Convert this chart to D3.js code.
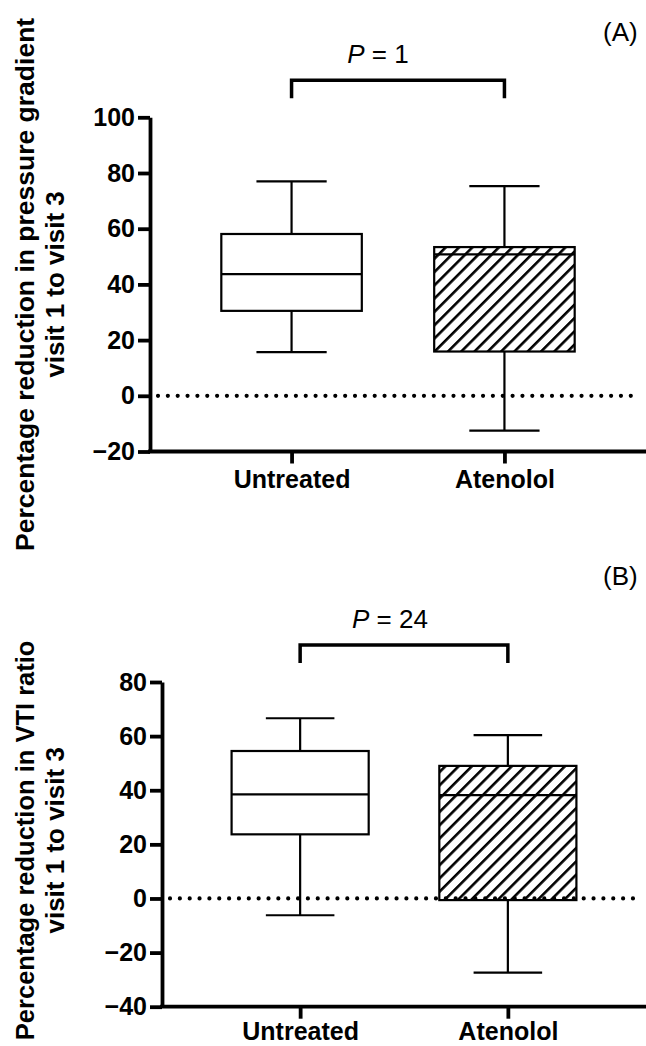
<!DOCTYPE html>
<html>
<head>
<meta charset="utf-8">
<script src="https://cdn.jsdelivr.net/npm/d3@7"></script>
<style>
  body { margin: 0; background: #fff; }
  svg { display: block; font-family: "Liberation Sans", Arial, sans-serif; }
</style>
</head>
<body>
<div id="chart"></div>
<script>
var svgWidth = 646;
var svgHeight = 1046;

var categories = ["Untreated", "Atenolol"];

// (A) percentage reduction in pressure gradient
var gradLow = [15.7, -12.5];
var gradQ1 = [30.5, 15.9];
var gradMedian = [43.7, 50.8];
var gradQ3 = [58.1, 53.4];
var gradHigh = [77.0, 75.3];
var gradTicks = [-20, 0, 20, 40, 60, 80, 100];

// (B) percentage reduction in VTI ratio
var vtiLow = [-6.2, -27.4];
var vtiQ1 = [23.7, -0.6];
var vtiMedian = [38.5, 38.2];
var vtiQ3 = [54.5, 49.0];
var vtiHigh = [66.6, 60.4];
var vtiTicks = [-40, -20, 0, 20, 40, 60, 80];

var svg = d3.select("#chart")
  .append("svg")
  .attr("width", svgWidth)
  .attr("height", svgHeight);

// diagonal hatch for the atenolol boxes
svg.append("defs").append("pattern")
  .attr("id", "hatch")
  .attr("patternUnits", "userSpaceOnUse")
  .attr("width", 9.4)
  .attr("height", 9.4)
  .attr("patternTransform", "rotate(45)")
  .call(function(p) {
    p.append("rect").attr("width", 9.4).attr("height", 9.4).attr("fill", "#fff");
    p.append("line")
      .attr("x1", 1.3).attr("x2", 1.3)
      .attr("y1", 0).attr("y2", 9.4)
      .attr("stroke", "#000")
      .attr("stroke-width", 2.6);
  });

function drawPanel(p) {
  var g = svg.append("g");

  var y = d3.scaleLinear().domain([p.ticks[0], p.ticks[p.ticks.length - 1]]).range([p.bottom, p.top]);
  var x = d3.scalePoint().domain(categories).range([p.left, svgWidth]).padding(0.665);
  var boxW = x.step() * 0.66;
  var capW = boxW / 2;

  var rows = categories.map(function(c, i) {
    return { cat: c, low: p.low[i], q1: p.q1[i], med: p.med[i], q3: p.q3[i], high: p.high[i], hatched: i === 1 };
  });

  var boxes = g.selectAll(".box").data(rows).enter().append("g").attr("class", "box");

  // whiskers
  boxes.append("line")
    .attr("x1", d => x(d.cat)).attr("x2", d => x(d.cat))
    .attr("y1", d => y(d.high)).attr("y2", d => y(d.q3));
  boxes.append("line")
    .attr("x1", d => x(d.cat)).attr("x2", d => x(d.cat))
    .attr("y1", d => y(d.q1)).attr("y2", d => y(d.low));
  boxes.append("line")
    .attr("x1", d => x(d.cat) - capW / 2).attr("x2", d => x(d.cat) + capW / 2)
    .attr("y1", d => y(d.high)).attr("y2", d => y(d.high));
  boxes.append("line")
    .attr("x1", d => x(d.cat) - capW / 2).attr("x2", d => x(d.cat) + capW / 2)
    .attr("y1", d => y(d.low)).attr("y2", d => y(d.low));

  boxes.append("rect")
    .attr("x", d => x(d.cat) - boxW / 2)
    .attr("width", boxW)
    .attr("y", d => y(d.q3))
    .attr("height", d => y(d.q1) - y(d.q3))
    .attr("fill", d => d.hatched ? "url(#hatch)" : "#fff");

  boxes.append("line")
    .attr("x1", d => x(d.cat) - boxW / 2).attr("x2", d => x(d.cat) + boxW / 2)
    .attr("y1", d => y(d.med)).attr("y2", d => y(d.med));

  boxes.selectAll("line, rect")
    .attr("stroke", "#000")
    .attr("stroke-width", 2.2);

  // dotted zero line
  g.append("line")
    .attr("x1", p.left + 8).attr("x2", 640)
    .attr("y1", y(0)).attr("y2", y(0))
    .attr("stroke", "#000")
    .attr("stroke-width", 4.2)
    .attr("stroke-linecap", "round")
    .attr("stroke-dasharray", "0 9.85");

  // axes
  var yAxis = g.append("g")
    .attr("transform", `translate(${p.left}, 0)`)
    .call(d3.axisLeft(y).tickValues(p.ticks).tickSize(12).tickSizeOuter(0).tickPadding(3));

  var xAxis = g.append("g")
    .attr("transform", `translate(0, ${p.bottom})`)
    .call(d3.axisBottom(x).tickSize(12).tickSizeOuter(0));
  xAxis.select(".domain").attr("d", `M${p.left - 1.9},0H${svgWidth}`);
  xAxis.selectAll(".tick text").attr("y", p.labelY).attr("dy", null);

  [yAxis, xAxis].forEach(function(a) {
    a.selectAll(".domain, .tick line").attr("stroke", "#000").attr("stroke-width", 3.8);
    a.selectAll(".tick text")
      .attr("fill", "#000")
      .attr("font-size", 25)
      .attr("font-weight", "bold")
      .attr("font-family", "Liberation Sans, Arial, sans-serif");
  });

  // y axis title
  var cy = (p.top + p.bottom) / 2 + p.titleDy;
  p.title.forEach(function(t, i) {
    g.append("text")
      .attr("transform", `translate(${34 + i * 30}, ${cy}) rotate(-90)`)
      .attr("text-anchor", "middle")
      .attr("font-size", p.titleSize[i])
      .attr("font-weight", "bold")
      .text(t);
  });

  // significance bracket
  var bTop = p.top - 37;
  g.append("path")
    .attr("d", `M${x(categories[0])},${bTop + 18}V${bTop}H${x(categories[1])}V${bTop + 18}`)
    .attr("fill", "none")
    .attr("stroke", "#000")
    .attr("stroke-width", 3.5);

  var pText = g.append("text")
    .attr("x", (x(categories[0]) + x(categories[1])) / 2 + p.pDx)
    .attr("y", bTop - 17.5)
    .attr("text-anchor", "middle")
    .attr("font-size", 26);
  pText.append("tspan").attr("font-style", "italic").text("P");
  pText.append("tspan").text(" = " + p.pValue);

  g.append("text")
    .attr("x", 603)
    .attr("y", p.panelY)
    .attr("font-size", 26)
    .text(p.panel);
}

drawPanel({
  top: 117.3, bottom: 451.5, left: 150,
  ticks: gradTicks,
  low: gradLow, q1: gradQ1, med: gradMedian, q3: gradQ3, high: gradHigh,
  title: ["Percentage reduction in pressure gradient", "visit 1 to visit 3"],
  titleSize: [26.5, 26], titleDy: 0,
  labelY: 36,
  pValue: "1", pDx: -20,
  panel: "(A)", panelY: 41
});

drawPanel({
  top: 682, bottom: 1006.7, left: 162,
  ticks: vtiTicks,
  low: vtiLow, q1: vtiQ1, med: vtiMedian, q3: vtiQ3, high: vtiHigh,
  title: ["Percentage reduction in VTI ratio", "visit 1 to visit 3"],
  titleSize: [25.5, 26], titleDy: -4,
  labelY: 33,
  pValue: "24", pDx: -14,
  panel: "(B)", panelY: 585
});
</script>
</body>
</html>
